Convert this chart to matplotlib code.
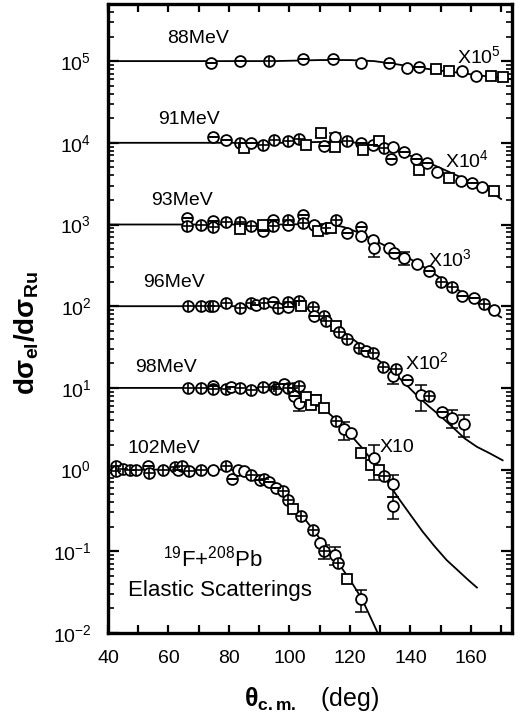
import matplotlib
matplotlib.use("Agg")
import matplotlib.pyplot as plt
from matplotlib.ticker import LogLocator, MultipleLocator, NullFormatter

plt.rcParams['font.family'] = ['Liberation Sans', 'DejaVu Sans']
plt.rcParams['mathtext.fontset'] = 'custom'
plt.rcParams['mathtext.rm'] = 'Liberation Sans'
plt.rcParams['mathtext.it'] = 'Liberation Sans:italic'
plt.rcParams['mathtext.bf'] = 'Liberation Sans:bold'

# 19F + 208Pb elastic scattering, ratio to Rutherford vs c.m. angle
# marker kinds: p = circle with cross, m = circle with bar, o = open circle, s = open square
energies = ['88MeV', '91MeV', '93MeV', '96MeV', '98MeV', '102MeV']
scales = [1e5, 1e4, 1e3, 1e2, 1e1, 1.0]
scale_labels = [r'X10$^{5}$', r'X10$^{4}$', r'X10$^{3}$', r'X10$^{2}$', 'X10', '']
decades = [1e-2, 1e-1, 1e0, 1e1, 1e2, 1e3, 1e4, 1e5]

th_88 = [73.9, 83.5, 93.4, 104.4, 114.3, 123.8, 133.0, 139.0, 142.9, 148.4, 152.8, 157.2, 161.6, 166.5, 170.6]
r_88 = [0.95, 1.00, 1.01, 1.05, 1.06, 0.95, 0.94, 0.82, 0.84, 0.79, 0.75, 0.76, 0.66, 0.66, 0.64]
k_88 = "mmpmmomomssooss"
e_88 = [0, 0, 0, 0, 0, 0, 0, 0, 0, 0.06, 0, 0, 0, 0, 0]

th_91 = [74.7, 79.1, 83.5, 85.1, 87.3, 91.2, 95.0, 99.4, 103.3, 105.5, 110.4, 111.5, 115.1, 115.1,
         119.2, 123.6, 124.2, 127.5, 129.7, 131.3, 133.5, 134.1, 137.9, 141.8, 142.9, 145.4, 148.9,
         152.8, 156.6, 160.5, 163.8, 167.6]
r_91 = [1.19, 1.09, 1.00, 0.86, 1.00, 0.95, 1.09, 1.06, 1.11, 0.95, 1.31, 0.92, 1.19, 0.89,
        1.04, 1.00, 0.82, 0.95, 1.04, 0.86, 0.63, 0.90, 0.77, 0.63, 0.47, 0.56, 0.44,
        0.37, 0.34, 0.32, 0.29, 0.26]
k_91 = "mmpsmppppssmospmsmspmommsmosomos"
e_91 = [0, 0, 0, 0, 0, 0, 0, 0, 0, 0, 0.08, 0, 0.10, 0, 0, 0, 0, 0, 0, 0, 0, 0, 0, 0, 0, 0, 0, 0, 0, 0, 0, 0]

th_93 = [66.1, 66.1, 70.8, 74.7, 74.7, 79.1, 83.7, 83.7, 87.3, 91.2, 91.2, 94.5, 94.5, 99.4, 99.4,
         104.4, 104.4, 108.2, 109.3, 112.1, 113.7, 115.4, 119.2, 123.6, 123.6, 127.5, 128.0, 133.0,
         134.6, 137.9, 142.3, 146.2, 150.0, 153.9, 157.2, 161.0, 164.3, 167.6]
r_93 = [1.20, 0.96, 1.00, 1.10, 0.93, 1.06, 1.06, 0.87, 0.96, 0.84, 1.00, 1.13, 0.96, 1.13, 1.00,
        1.29, 1.05, 1.00, 0.83, 0.91, 0.91, 1.13, 0.79, 0.94, 0.72, 0.65, 0.52, 0.52,
        0.45, 0.39, 0.33, 0.27, 0.20, 0.17, 0.135, 0.125, 0.105, 0.091]
k_93 = "mppmpppspmsmppmmpospspmmoooomoomppmmpo"
e_93 = [0] * 26 + [0.22, 0, 0, 0.18] + [0] * 8

th_96 = [66.4, 70.8, 73.6, 74.7, 79.1, 83.5, 87.3, 89.0, 91.7, 94.5, 96.1, 99.4, 99.4, 103.3,
         103.8, 107.7, 108.2, 111.5, 112.1, 115.4, 116.5, 119.2, 123.1, 125.3, 127.5, 130.8,
         134.1, 135.2, 139.0, 143.4, 146.2, 150.6, 153.9, 157.7]
r_96 = [1.00, 1.00, 1.00, 1.00, 1.08, 0.96, 1.08, 1.04, 1.08, 1.13, 0.96, 1.13, 0.98, 1.16,
        1.00, 0.99, 0.76, 0.76, 0.66, 0.57, 0.48, 0.40, 0.31, 0.28, 0.27, 0.18,
        0.14, 0.17, 0.125, 0.081, 0.080, 0.050, 0.043, 0.036]
k_96 = "pppppppmpmppmpspmppspppmppopmopmoo"
e_96 = [0] * 26 + [0.2, 0, 0, 0.35, 0, 0, 0.25, 0.3]

th_98 = [66.4, 70.8, 74.7, 74.7, 79.1, 80.7, 83.5, 87.3, 91.2, 95.0, 95.6, 98.3, 99.4, 101.1,
         101.6, 103.3, 103.3, 105.5, 107.1, 108.8, 111.5, 115.4, 118.1, 120.3, 123.6, 126.9,
         128.0, 129.7, 131.3, 134.1, 134.1]
r_98 = [1.00, 1.00, 1.06, 0.97, 0.97, 1.04, 1.00, 0.93, 1.02, 1.02, 0.96, 1.11, 1.00, 1.00,
        0.80, 1.06, 0.65, 0.77, 0.62, 0.71, 0.56, 0.39, 0.31, 0.28, 0.16, 0.115,
        0.137, 0.099, 0.084, 0.066, 0.036]
k_98 = "ppmppmpppppmppmposssspoossospoo"
e_98 = [0] * 16 + [0.2, 0, 0, 0.15, 0, 0, 0.25, 0, 0, 0, 0.45, 0, 0, 0.3, 0.3]

th_102 = [42.8, 42.8, 45.0, 47.2, 49.4, 53.2, 53.5, 58.2, 62.0, 63.1, 64.5, 66.7, 70.8, 74.7,
          79.1, 81.0, 82.9, 85.1, 87.3, 90.1, 91.7, 93.4, 95.6, 97.8, 99.4, 101.1, 103.8,
          107.7, 110.1, 111.5, 115.1, 115.9, 119.2, 123.6]
r_102 = [1.12, 0.95, 1.02, 1.00, 1.00, 1.10, 0.91, 0.99, 1.08, 1.00, 1.10, 0.95, 0.99, 1.00,
         1.12, 0.77, 1.00, 0.95, 0.87, 0.75, 0.77, 0.70, 0.60, 0.54, 0.42, 0.33, 0.27,
         0.18, 0.128, 0.10, 0.09, 0.072, 0.046, 0.026]
k_102 = "pppppmpppmpppopmoopmpmmppsppopopso"
e_102 = [0] * 29 + [0.2, 0.25, 0, 0, 0.3]

# optical-model curves
cth_88 = [40, 95, 110, 120, 128, 135, 142, 148, 156, 164, 174]
cr_88 = [1.0, 1.0, 1.03, 1.03, 1.0, 0.92, 0.84, 0.78, 0.72, 0.66, 0.60]
cth_91 = [40, 100, 112, 120, 126, 130, 134, 138, 142, 146, 150, 154, 158, 162, 166, 170]
cr_91 = [1.0, 1.0, 1.03, 1.02, 0.97, 0.91, 0.83, 0.74, 0.65, 0.57, 0.49, 0.42, 0.36, 0.31, 0.26, 0.205]
cth_93 = [40, 100, 108, 114, 118, 122, 126, 130, 134, 138, 142, 146, 150, 154, 158, 162, 166, 170]
cr_93 = [1.0, 1.0, 1.02, 1.0, 0.93, 0.82, 0.70, 0.59, 0.50, 0.42, 0.34, 0.28, 0.22, 0.175, 0.14, 0.11, 0.09, 0.073]
cth_96 = [40, 102, 106, 110, 114, 118, 122, 126, 130, 134, 138, 142, 146, 150, 154, 158, 162, 166, 170.5]
cr_96 = [1.0, 1.0, 0.93, 0.80, 0.63, 0.48, 0.37, 0.28, 0.21, 0.16, 0.115, 0.082, 0.060, 0.045, 0.033,
         0.024, 0.019, 0.016, 0.013]
cth_98 = [40, 98, 101, 104, 108, 112, 116, 120, 124, 128, 132, 136, 140, 144, 148, 152, 156, 159, 162]
cr_98 = [1.0, 1.0, 0.95, 0.84, 0.68, 0.53, 0.39, 0.27, 0.185, 0.12, 0.075, 0.045, 0.028, 0.0175,
         0.0115, 0.0078, 0.0057, 0.0045, 0.0036]
cth_102 = [40, 80, 84, 88, 92, 96, 100, 104, 108, 112, 116, 120, 124, 128, 131]
cr_102 = [1.0, 1.0, 0.98, 0.91, 0.78, 0.60, 0.42, 0.28, 0.18, 0.115, 0.073, 0.045, 0.026, 0.0125, 0.0071]

data = [(th_88, r_88, k_88, e_88), (th_91, r_91, k_91, e_91), (th_93, r_93, k_93, e_93),
        (th_96, r_96, k_96, e_96), (th_98, r_98, k_98, e_98), (th_102, r_102, k_102, e_102)]
curves = [(cth_88, cr_88), (cth_91, cr_91), (cth_93, cr_93),
          (cth_96, cr_96), (cth_98, cr_98), (cth_102, cr_102)]

# label anchors (angle, ratio) for energy and scale-factor labels
elabel_pos = [(59.5, 1.66), (56.5, 1.71), (54.2, 1.71), (51.6, 1.71), (48.9, 1.57), (46.6, 1.61)]
slabel_pos = [(155.3, 0.95), (151.3, 0.508), (145.7, 0.306), (138.1, 0.169), (129.9, 0.165), None]

fig = plt.figure(figsize=(5.32, 7.19), dpi=100)
ax = fig.add_axes([108 / 532, 86 / 719, 404 / 532, 629 / 719])
ax.set_yscale('log')
ax.set_xlim(40, 173.6)
ax.set_ylim(1e-2, 5e5)

ms = 7.8
for (th, r, kinds, err), (cth, cr), sc in zip(data, curves, scales):
    ax.plot(cth, [v * sc for v in cr], color='black', lw=1.3, zorder=2)
    for x, v, k, e in zip(th, r, kinds, err):
        y = v * sc
        if e > 0:
            ax.errorbar([x], [y], yerr=[[y * e], [y * e]], fmt='none', ecolor='black',
                        elinewidth=1.1, capsize=4, capthick=1.1, zorder=3)
        shape = 's' if k == 's' else 'o'
        ax.plot([x], [y], marker=shape, ms=ms if shape == 'o' else ms - 0.8, mfc='white',
                mec='black', mew=1.3, ls='none', zorder=4)
        if k == 'p':
            ax.plot([x], [y], marker='+', ms=ms, mec='black', mew=1.2, ls='none', zorder=5)
        elif k == 'm':
            ax.plot([x], [y], marker='_', ms=ms, mec='black', mew=1.4, ls='none', zorder=5)

for name, sc, (lx, ly) in zip(energies, scales, elabel_pos):
    ax.text(lx, ly * sc, name, fontsize=14, ha='left', va='baseline')
for lab, sc, pos in zip(scale_labels, scales, slabel_pos):
    if pos is not None:
        ax.text(pos[0], pos[1] * sc, lab, fontsize=14, ha='left', va='baseline')

ax.text(74.7, 0.065, r'$^{19}$F+$^{208}$Pb', fontsize=16, ha='center', va='baseline')
ax.text(77.0, 0.0287, 'Elastic Scatterings', fontsize=16, ha='center', va='baseline')

ax.xaxis.set_major_locator(MultipleLocator(20))
ax.xaxis.set_minor_locator(MultipleLocator(10))
ax.set_yticks(decades)
ax.yaxis.set_minor_locator(LogLocator(base=10, subs=range(2, 10), numticks=20))
ax.yaxis.set_minor_formatter(NullFormatter())
ax.tick_params(which='both', direction='in', top=True, right=True, labelsize=14)
ax.tick_params(axis='x', which='both', length=6, width=1.6, pad=12)
ax.tick_params(axis='y', which='major', length=8, width=1.6, pad=12)
ax.tick_params(axis='y', which='minor', length=4, width=1.2)
for sp in ax.spines.values():
    sp.set_linewidth(2.4)

fig.text(27 / 532, 1 - 333 / 719, r'$\mathbf{d\sigma_{el}/d\sigma_{Ru}}$', fontsize=20,
         rotation=90, ha='center', va='center')
fig.text(312 / 532, 13 / 719, r'$\mathbf{\theta_{c.m.}}$   (deg)', fontsize=18,
         ha='center', va='baseline')

fig.savefig('out.png', dpi=100)
